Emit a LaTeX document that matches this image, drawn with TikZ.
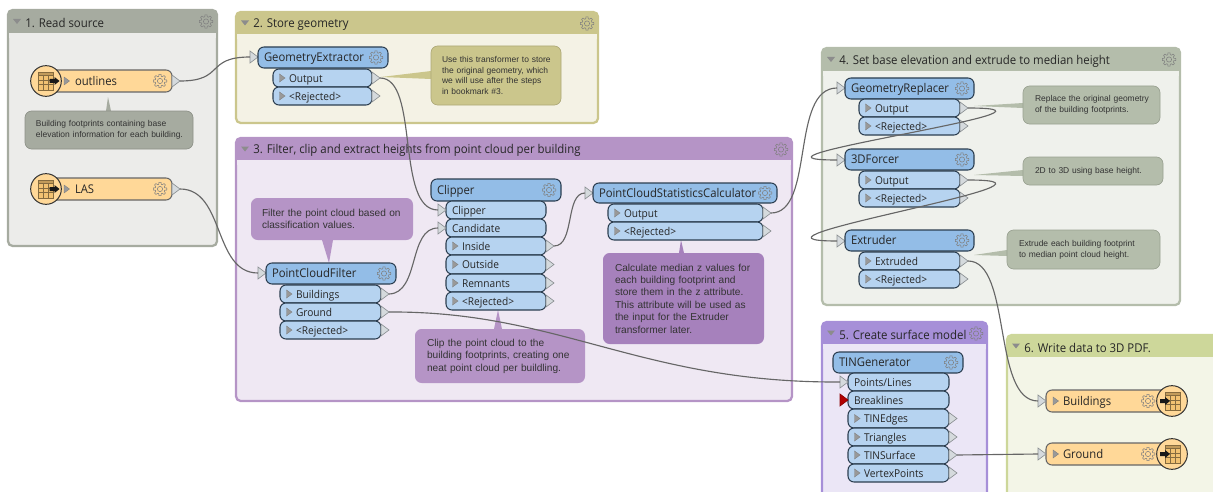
\documentclass[tikz,border=0pt]{standalone}
\usepackage{fontspec}
\setmainfont[FakeStretch=0.94]{Open Sans}
\newfontfamily\annfont{Liberation Sans}
\usetikzlibrary{shapes.geometric}
\definecolor{hdrblue}{HTML}{93BDE7}
\definecolor{portblue}{HTML}{B6D3F0}
\definecolor{edgeblue}{HTML}{2C3E50}
\definecolor{ffmorange}{HTML}{FFD898}
\definecolor{tblorange}{HTML}{F2C272}
\definecolor{wirecol}{HTML}{666666}
\definecolor{trifill}{HTML}{D5DADD}
\definecolor{tridraw}{HTML}{8C9194}
\definecolor{hA}{HTML}{A6ABA0}\definecolor{bA}{HTML}{ECECEA}
\definecolor{hB}{HTML}{CBC68C}\definecolor{bB}{HTML}{F4F2E5}
\definecolor{hC}{HTML}{B594C6}\definecolor{bC}{HTML}{EFE8F3}
\definecolor{hD}{HTML}{B4BDAB}\definecolor{bD}{HTML}{EFF1EC}
\definecolor{hE}{HTML}{A68FD8}\definecolor{bE}{HTML}{EBE6F6}
\definecolor{hF}{HTML}{CDD79A}\definecolor{bF}{HTML}{F3F5E7}
\definecolor{aC}{HTML}{A681BC}
\tikzset{
  x=0.75pt,y=-0.75pt,
  hdrbox/.style={draw=edgeblue,line width=0.8pt,fill=hdrblue,rounded corners=4.5pt,font=\fontsize{9.0}{11}\selectfont,text=black!85},
  portbox/.style={draw=edgeblue,line width=0.8pt,fill=portblue,rounded corners=4.5pt,font=\fontsize{8.1}{10}\selectfont,text=black!85},
  barbox/.style={draw=black!60,line width=0.8pt,fill=ffmorange,rounded corners=4.5pt,font=\fontsize{9.0}{11}\selectfont,text=black!85},
  annbox/.style={fill=#1,draw=#1!85!black,line width=0.5pt,rounded corners=5pt,font=\annfont\fontsize{6.35}{8.1}\selectfont,text=black!80},
  annbig/.style={fill=#1,rounded corners=5pt,font=\annfont\fontsize{7.6}{9.3}\selectfont,text=black!80},
  bmkbody/.style={line width=1.7pt,rounded corners=3.5pt},
  bmktitle/.style={inner sep=0pt,font=\fontsize{9.1}{11}\selectfont,text=black!85},
  tri/.style={isosceles triangle,isosceles triangle stretches,minimum height=6pt,minimum width=9pt,inner sep=0pt,outer sep=0pt,draw=tridraw,fill=trifill,line width=0.5pt,anchor=west},
  redtri/.style={tri,draw=red!55!black,fill=red!70!black},
  wire/.style={draw=wirecol,line width=0.85pt},
  gearline/.style={draw=black!50,line width=0.4pt,line join=round},
  typecircle/.style={circle,draw=black!80,line width=0.75pt,fill=ffmorange,minimum size=23pt,inner sep=0pt},
  gear/.pic={
    \path[gearline] (0:6.8)
      \foreach \a in {0,45,...,315}{ -- (\a+9:6.8) -- (\a+15:4.9) -- (\a+30:4.9) -- (\a+36:6.8) } -- cycle;
    \path[gearline] (0,0) circle (2.6);
  }
}
\newcommand{\bx}[8]{%
  \pgfmathsetmacro\bw{((#4)-(#2))*0.75}\pgfmathsetmacro\bh{((#5)-(#3))*0.75}%
  \pgfmathsetmacro\bp{#7*0.75}\pgfmathsetmacro\bt{\bw-2*\bp}%
  \node[#6,minimum width=\bw pt,minimum height=\bh pt,inner xsep=\bp pt,inner ysep=0pt,outer sep=0pt,text width=\bt pt,align=left] (#1) at ({((#2)+(#4))/2},{((#3)+(#5))/2}) {#8};}
\newcommand{\lowtext}[1]{\raisebox{-3.3pt}[0pt][0pt]{\mbox{#1}}}
\newcommand{\bmk}[9]{%
  \bx{#1}{#2}{#3}{#4}{#5}{bmkbody,draw=#7,fill=#8}{0}{}%
  \fill[#7,rounded corners=3.5pt] (#2,#3) rectangle (#4,#6+4);
  \fill[#7] (#2,#6-3) rectangle (#4,#6);
  \fill[black!45] (#2+5,{(#3+#6)/2-2.5}) -- (#2+13,{(#3+#6)/2-2.5}) -- (#2+9,{(#3+#6)/2+2.5}) -- cycle;
  \fill[#8] (#2+1.2,#6) rectangle (#4-1.2,#6+5);
  \node[bmktitle,anchor=west] (#1t) at (#2+17,{(#3+#6)/2+1.5}) {#9};
  \pic at (#4-11,{#3+11.5}) {gear};}
\newcommand{\smalltri}[2]{\path[fill=black!40,draw=black!50,line width=0.3pt] (#1,{#2-4}) -- (#1+5.5,{#2}) -- (#1,{#2+4}) -- cycle;}
\newcommand{\hdr}[6]{\bx{#1}{#2}{#3}{#4}{#5}{hdrbox}{6}{\lowtext{#6}}\pic at (#4-12,{(#3+#5)/2}) {gear};}
\newcommand{\outport}[6]{\bx{#1}{#2}{#3}{#4}{#5}{portbox}{16}{\lowtext{#6}}\smalltri{#2+6.5}{(#3+#5)/2}\node[tri] (#1o) at (#4,{(#3+#5)/2}) {};}
\newcommand{\inport}[6]{\bx{#1}{#2}{#3}{#4}{#5}{portbox}{6}{\lowtext{#6}}\node[tri] (#1i) at (#2-8,{(#3+#5)/2}) {};}
\newcommand{\tblicon}[3]{\begin{scope}[shift={(#1,#2)}]
    \fill[tblorange] (#3,-9) rectangle (#3+15,9);
    \fill[black!20!tblorange] (#3,-9) rectangle (#3+15,-5.5);
    \draw[black!45!tblorange,line width=0.4pt] (#3,-9) rectangle (#3+15,9)
      (#3,-5.5) -- (#3+15,-5.5) (#3,-1) -- (#3+15,-1) (#3,3.5) -- (#3+15,3.5)
      (#3+5,-5.5) -- (#3+5,9) (#3+10,-5.5) -- (#3+10,9);
  \end{scope}}
\newcommand{\arrowicon}[3]{\begin{scope}[shift={(#1,#2)}]
    \fill[black!90] (#3,-2) -- (#3+5,-2) -- (#3+5,-4) -- (#3+10,0) -- (#3+5,4) -- (#3+5,2) -- (#3,2) -- cycle;
  \end{scope}}
\newcommand{\reader}[3]{% name cy text
  \bx{#1}{46}{#2-11}{172}{#2+11}{barbox}{29}{\lowtext{#3}}
  \smalltri{64}{#2}
  \pic at (160,#2) {gear};
  \node[tri] (#1o) at (172,#2) {};
  \node[typecircle] (#1c) at (46,#2) {};
  \tblicon{46}{#2}{-8}\arrowicon{46}{#2}{3.5}}
\newcommand{\writer}[3]{% name cy text
  \bx{#1}{1046}{#2-11}{1172}{#2+11}{barbox}{17}{\lowtext{#3}}
  \smalltri{1053}{#2}
  \pic at (1148,#2) {gear};
  \node[tri] (#1i) at (1038,#2) {};
  \node[typecircle] (#1c) at (1172,#2) {};
  \tblicon{1172}{#2}{-7}\arrowicon{1172}{#2}{-12}}
\begin{document}
\begin{tikzpicture}
\clip (0,0) rectangle (1213,492);
% bookmarks
\bmk{bmA}{8}{10}{217}{246}{33}{hA}{bA}{1. Read source}
\bmk{bmB}{236}{12}{598}{123}{34}{hB}{bB}{2. Store geometry}
\bmk{bmC}{236}{138}{792}{401}{160}{hC}{bC}{3. Filter, clip and extract heights from point cloud per building}
\bmk{bmD}{822}{48}{1180}{305}{71}{hD}{bD}{4. Set base elevation and extrude to median height}
\bmk{bmE}{822}{322}{987}{520}{344}{hE}{bE}{5. Create surface model}
\bmk{bmF}{1007}{335}{1240}{520}{357}{hF}{bF}{6. Write data to 3D PDF.}
% annotation pointers
\fill[hA] (106,111) -- (108,97) -- (111,111) -- cycle;
\fill[hB] (431,71) -- (381,77) -- (431,79) -- cycle;
\fill[hC] (322,240) -- (329,263) -- (333,240) -- cycle;
\fill[hC] (494,329) -- (498,310) -- (502,329) -- cycle;
\fill[aC] (679,253) -- (681,240) -- (684,253) -- cycle;
\fill[hD] (1023,103) -- (974,106) -- (1023,108) -- cycle;
\fill[hD] (1023,170) -- (974,175) -- (1023,176) -- cycle;
\fill[hD] (1007,250) -- (974,255) -- (1007,256) -- cycle;
% annotations
\bx{anA}{25}{111}{193}{149}{annbox=hA}{11}{\mbox{Building footprints containing base}\\\mbox{elevation information for each building.}}
\bx{anB}{431}{46}{561}{105}{annbox=hB}{11}{\mbox{Use this transformer to store}\\\mbox{the original geometry, which}\\\mbox{we will use after the steps}\\\mbox{in bookmark \#3.}}
\bx{anC}{251}{198}{413}{240}{annbig=hC}{11}{\mbox{Filter the point cloud based on}\\\mbox{classification values.}}
\bx{anD}{415}{329}{585}{383}{annbig=hC}{12}{\mbox{Clip the point cloud to the}\\\mbox{building footprints, creating one}\\\mbox{neat point cloud per buildling.}}
\bx{anE}{603}{253}{764}{344}{annbig=aC}{12}{\mbox{Calculate median z values for}\\\mbox{each building footprint and}\\\mbox{store them in the z attribute.}\\\mbox{This attribute will be used as}\\\mbox{the input for the Extruder}\\\mbox{transformer later.}}
\bx{anF}{1023}{86}{1160}{124}{annbox=hD}{12}{\mbox{Replace the original geometry}\\\mbox{of the building footprints.}}
\bx{anG}{1023}{157}{1163}{185}{annbox=hD}{12}{\mbox{2D to 3D using base height.}}
\bx{anH}{1007}{230}{1160}{269}{annbox=hD}{12}{\mbox{Extrude each building footprint}\\\mbox{to median point cloud height.}}
% readers
\reader{outl}{81}{outlines}
\reader{las}{189}{LAS}
% GeometryExtractor
\node[tri] (gei) at (250,57) {};
\hdr{ge}{258}{47}{388}{68}{GeometryExtractor}
\outport{geO}{273}{69}{372}{87}{Output}
\outport{geR}{273}{87}{372}{105}{<Rejected>}
% PointCloudFilter
\node[tri] (pfi) at (258,273) {};
\hdr{pf}{266}{263}{396}{284}{PointCloudFilter}
\outport{pfB}{280}{285}{381}{303}{Buildings}
\outport{pfG}{280}{303}{381}{321}{Ground}
\outport{pfR}{280}{321}{381}{339}{<Rejected>}
% Clipper
\hdr{cl}{431}{179}{561}{201}{Clipper}
\inport{clC}{446}{201}{546}{219}{Clipper}
\inport{clD}{446}{219}{546}{237}{Candidate}
\outport{clI}{446}{237}{546}{255}{Inside}
\outport{clO}{446}{255}{546}{274}{Outside}
\outport{clM}{446}{274}{546}{292}{Remnants}
\outport{clR}{446}{292}{546}{310}{<Rejected>}
% PointCloudStatisticsCalculator
\node[tri] (psi) at (585,193) {};
\hdr{ps}{593}{183}{777}{203}{PointCloudStatisticsCalculator}
\outport{psO}{608}{204}{763}{222}{Output}
\outport{psR}{608}{222}{763}{240}{<Rejected>}
% GeometryReplacer
\node[tri] (gri) at (837,88) {};
\hdr{gr}{845}{78}{974}{99}{GeometryReplacer}
\outport{grO}{859}{99}{960}{117}{Output}
\outport{grR}{859}{117}{960}{135}{<Rejected>}
% 3DForcer
\node[tri] (tfi) at (837,160) {};
\hdr{tf}{845}{149}{974}{170}{3DForcer}
\outport{tfO}{859}{171}{960}{189}{Output}
\outport{tfR}{859}{189}{960}{207}{<Rejected>}
% Extruder
\node[tri] (exi) at (837,241) {};
\hdr{ex}{845}{230}{974}{251}{Extruder}
\outport{exO}{859}{252}{960}{270}{Extruded}
\outport{exR}{859}{270}{960}{288}{<Rejected>}
% TINGenerator
\hdr{tg}{833}{352}{963}{373}{TINGenerator}
\inport{tgP}{848}{373}{949}{391}{Points/Lines}
\bx{tgB}{848}{391}{949}{409}{portbox}{6}{\lowtext{Breaklines}}
\node[redtri] (tgBi) at (840,400) {};
\outport{tgE}{848}{409}{949}{428}{TINEdges}
\outport{tgT}{848}{428}{949}{446}{Triangles}
\outport{tgS}{848}{446}{949}{464}{TINSurface}
\outport{tgV}{848}{464}{949}{482}{VertexPoints}
% writers
\writer{wb}{401}{Buildings}
\writer{wg}{454}{Ground}
% connectors
\draw[wire] (outlo.east) .. controls (225,81) and (205,57) .. (gei.west);
\draw[wire] (geOo.east) .. controls (420,78) and (395,210) .. (clCi.west);
\draw[wire] (laso.east) .. controls (225,189) and (213,273) .. (pfi.west);
\draw[wire] (pfBo.east) .. controls (420,293) and (408,228) .. (clDi.west);
\draw[wire] (clIo.east) .. controls (575,246) and (565,193) .. (psi.west);
\draw[wire] (pfGo.east) .. controls (560,311) and (640,383) .. (tgPi.west);
\draw[wire] (psOo.east) .. controls (815,213) and (790,88) .. (gri.west);
\draw[wire] (grOo.east) .. controls (1100,108) and (710,160) .. (tfi.west);
\draw[wire] (tfOo.east) .. controls (1100,180) and (710,241) .. (exi.west);
\draw[wire] (exOo.east) .. controls (1012,261) and (992,401) .. (wbi.west);
\draw[wire] (tgSo.east) -- (wgi.west);
\end{tikzpicture}
\end{document}
